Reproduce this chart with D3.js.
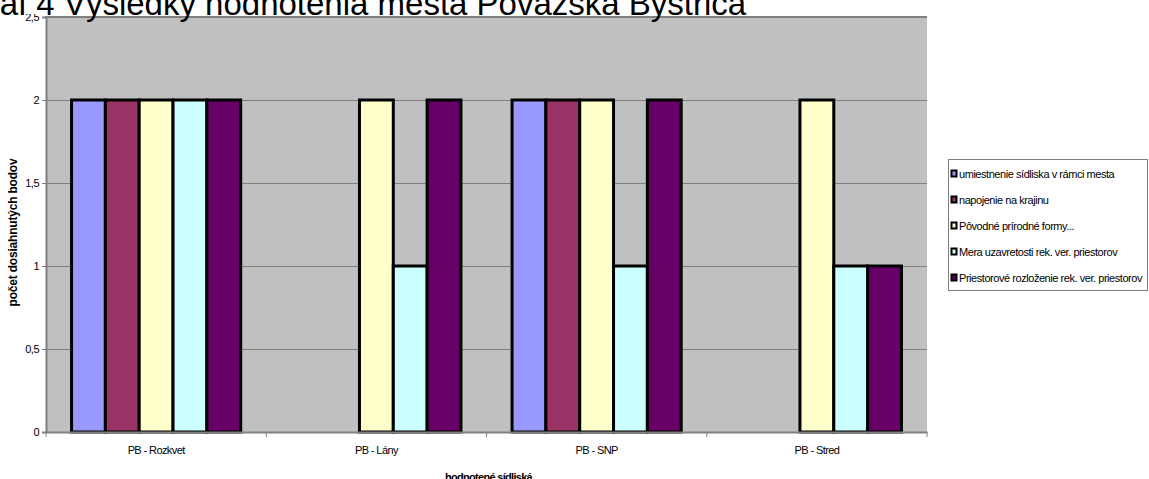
<!DOCTYPE html>
<html><head><meta charset="utf-8">
<script src="https://cdn.jsdelivr.net/npm/d3@7"></script>
<style>body{margin:0;background:#fff}svg{display:block;font-family:"Liberation Sans",Arial,sans-serif}</style>
</head><body><svg id="c" width="1149" height="479"></svg>
<script>
// ---- data ----
const titleText = "Graf 4 Výsledky hodnotenia mesta Považská Bystrica";
const yTitle = "počet dosiahnutých bodov";
const xTitle = "hodnotené sídliská";
const categories = ["PB - Rozkvet", "PB - Lány", "PB - SNP", "PB - Stred"];
const seriesNames = [
  "umiestnenie sídliska v rámci mesta",
  "napojenie na krajinu",
  "Pôvodné  prírodné formy...",
  "Mera uzavretosti rek. ver. priestorov",
  "Priestorové rozloženie rek. ver. priestorov"
];
const seriesColors = ["#9999FF", "#993366", "#FFFFCC", "#CCFFFF", "#660066"];
const umiestnenie = [2, 0, 2, 0];
const napojenie   = [2, 0, 2, 0];
const povodne     = [2, 2, 2, 2];
const mera        = [2, 1, 1, 1];
const priestorove = [2, 2, 2, 1];
const yTicks = [0, 0.5, 1, 1.5, 2, 2.5];
const yTickLabels = ["0", "0,5", "1", "1,5", "2", "2,5"];

const seriesValues = [umiestnenie, napojenie, povodne, mera, priestorove];

// ---- layout ----
const svg = d3.select("#c");
const L = 46, R = 927, T = 17, B = 432;

const x0 = d3.scaleBand().domain(categories).range([L, R]).padding(0);
const bw = x0.bandwidth();
const gap = bw * 0.116;
const x1 = d3.scaleBand().domain(d3.range(seriesNames.length)).range([gap, bw - gap]).padding(0);
const y = d3.scaleLinear().domain([0, 2.5]).range([B, T]);

// plot background
svg.append("rect").attr("x", L).attr("y", T).attr("width", R - L).attr("height", B - T).attr("fill", "#C0C0C0");

// gridlines
svg.append("g").selectAll("line").data(yTicks.filter(d => d > 0 && d < 2.5)).join("line")
  .attr("x1", L).attr("x2", R).attr("y1", d => Math.round(y(d)) + 0.5).attr("y2", d => Math.round(y(d)) + 0.5)
  .attr("stroke", "#808080").attr("stroke-width", 1);

// plot borders
svg.append("line").attr("x1", L - 1).attr("x2", R).attr("y1", T).attr("y2", T).attr("stroke", "#808080").attr("stroke-width", 2);

// bars
const barData = [];
seriesValues.forEach((vals, si) => vals.forEach((v, ci) => { if (v > 0) barData.push({si, ci, v}); }));
svg.append("g").selectAll("rect").data(barData).join("rect")
  .attr("x", d => x0(categories[d.ci]) + x1(d.si))
  .attr("y", d => y(d.v))
  .attr("width", x1.bandwidth())
  .attr("height", d => y(0) - y(d.v))
  .attr("fill", d => seriesColors[d.si])
  .attr("stroke", "#000").attr("stroke-width", 3);

// y axis
const yAxis = d3.axisLeft(y).tickValues(yTicks).tickSize(4).tickPadding(3)
  .tickFormat((d, i) => yTickLabels[i]);
const gy = svg.append("g").attr("transform", `translate(${L},0)`).call(yAxis);
gy.select(".domain").attr("stroke", "#808080").attr("stroke-width", 2);
gy.selectAll(".tick line").attr("stroke", "#808080");
gy.selectAll(".tick text").attr("font-size", 11).attr("fill", "#000").attr("font-family", "Liberation Sans, Arial, sans-serif").attr("letter-spacing", "-0.5px");

// x axis
const xAxis = d3.axisBottom(x0).tickSize(0).tickPadding(14);
const gx = svg.append("g").attr("transform", `translate(0,${B})`).call(xAxis);
gx.select(".domain").attr("stroke", "#808080").attr("stroke-width", 2);
gx.selectAll(".tick text").attr("font-size", 11).attr("fill", "#000").attr("font-family", "Liberation Sans, Arial, sans-serif").attr("letter-spacing", "-0.6px");
gx.append("g").selectAll("line").data(categories.concat(["__end"])).join("line")
  .attr("x1", (d, i) => i < categories.length ? x0(d) : R)
  .attr("x2", (d, i) => i < categories.length ? x0(d) : R)
  .attr("y1", 0).attr("y2", 5).attr("stroke", "#808080");

// axis titles
svg.append("text").attr("transform", `translate(17,${(T + B) / 2 + 8}) rotate(-90)`)
  .attr("text-anchor", "middle").attr("font-size", 12).attr("font-weight", "bold").attr("letter-spacing", "-0.2px").text(yTitle);
svg.append("text").attr("x", (L + R) / 2 + 2).attr("y", 481).attr("text-anchor", "middle")
  .attr("font-size", 11).attr("font-weight", "bold").attr("letter-spacing", "-0.7px").text(xTitle);

// title (left part runs off the page, as in the reference)
svg.append("rect").attr("x", 0).attr("y", 0).attr("width", 760).attr("height", 14).attr("fill", "#fff");
svg.append("text").attr("x", -37).attr("y", 15).attr("font-size", 33).text(titleText);

// legend
const lg = svg.append("g");
lg.append("rect").attr("x", 948.5).attr("y", 159.5).attr("width", 199).attr("height", 131)
  .attr("fill", "#fff").attr("stroke", "#808080");
const ly = d3.scaleLinear().domain([0, 4]).range([174, 278]);
const items = lg.selectAll("g.it").data(seriesNames).join("g").attr("class", "it")
  .attr("transform", (d, i) => `translate(0,${ly(i)})`);
items.append("rect").attr("x", 951.5).attr("y", -3.5).attr("width", 5).attr("height", 6)
  .attr("fill", (d, i) => seriesColors[i]).attr("stroke", "#000").attr("stroke-width", 2);
items.append("text").attr("x", 959).attr("y", 4).attr("font-size", 11).attr("letter-spacing", "-0.45px").text(d => d);
</script></body></html>
